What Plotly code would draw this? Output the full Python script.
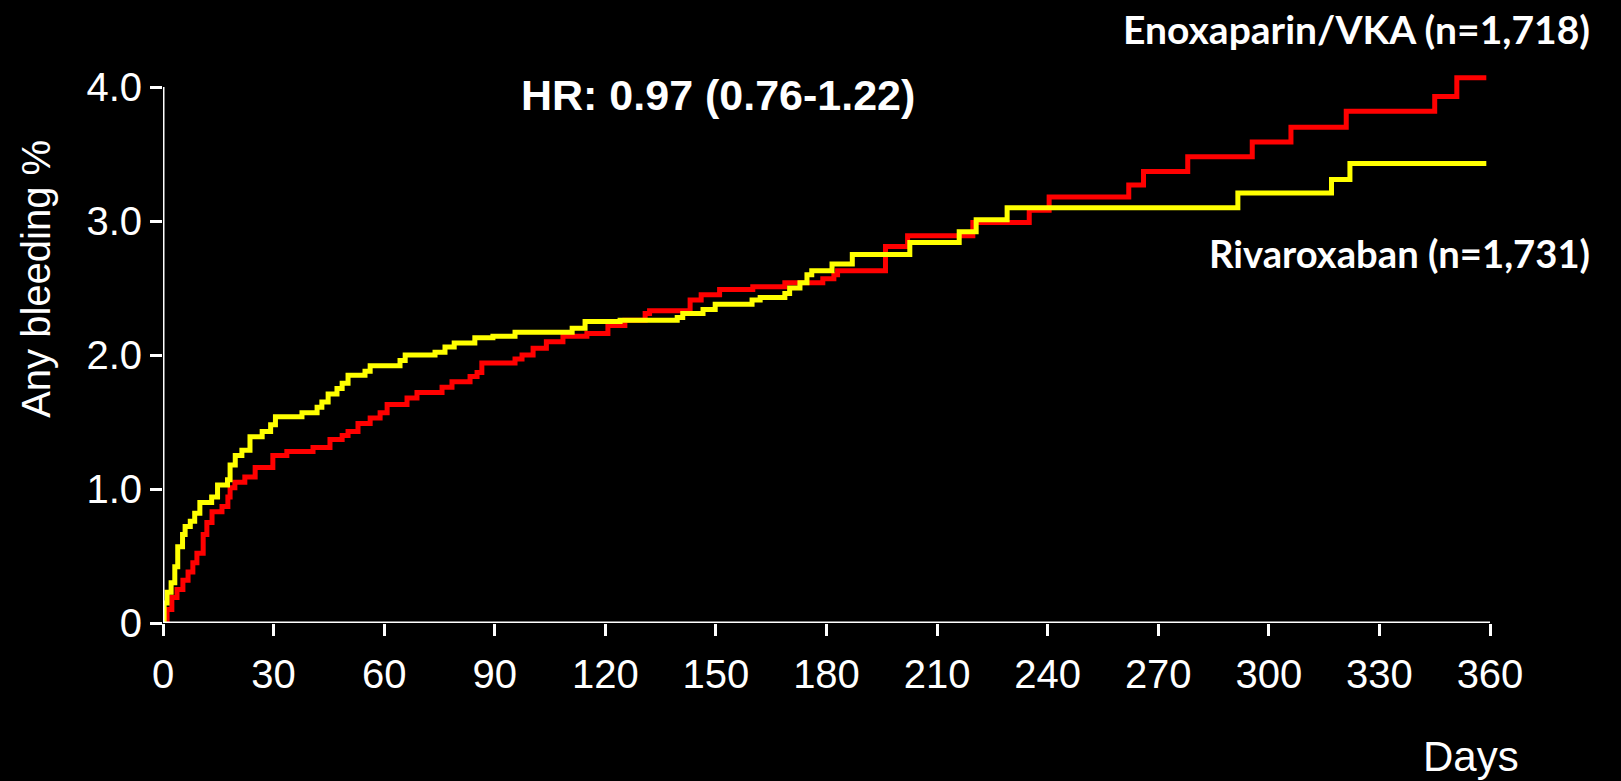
import plotly.graph_objects as go

# Kaplan-Meier style cumulative incidence (% any bleeding)
days_riv = [0, 0.3, 1.1, 2.2, 3.2, 4.0, 5.3, 6.0, 7.4, 8.6,
            10.0, 13.2, 14.8, 17.5, 18.2, 19.6, 21.4, 23.6, 26.9, 29.2,
            30.5, 37.7, 41.8, 43.1, 44.8, 47.2, 48.6, 50.2, 54.8, 56.2,
            64.3, 65.7, 73.8, 76.5, 79, 84.6, 89.5, 95.5, 111, 114.5,
            124, 139.5, 141, 146.5, 149.8, 159.8, 162, 168.7, 170, 172.8,
            174.7, 176, 181.5, 187, 202.6, 216, 220.6, 229, 291.6, 317,
            322, 359]
vals_riv = [0, 0.15, 0.23, 0.30, 0.42, 0.57, 0.66, 0.72, 0.76, 0.82,
            0.90, 0.94, 1.03, 1.07, 1.18, 1.25, 1.29, 1.39, 1.43, 1.48,
            1.54, 1.57, 1.61, 1.65, 1.71, 1.75, 1.79, 1.85, 1.88, 1.92,
            1.96, 2.00, 2.02, 2.06, 2.09, 2.13, 2.14, 2.17, 2.20, 2.25,
            2.26, 2.28, 2.31, 2.34, 2.38, 2.41, 2.43, 2.46, 2.50, 2.54,
            2.60, 2.63, 2.68, 2.75, 2.84, 2.92, 3.01, 3.10, 3.21, 3.31,
            3.43, 3.43]

days_enox = [0, 1.1, 2.4, 3.8, 5.4, 6.8, 8.1, 9.2, 10.9, 11.9,
             13.3, 16, 17.6, 18.2, 19.5, 22.2, 25, 29.8, 33.6, 40.7,
             45.3, 48.6, 50.2, 52.9, 56.2, 58.9, 60.8, 66.2, 68.9, 75.7,
             78.4, 83.3, 85.2, 86.5, 95.5, 97.4, 100.4, 104, 108.5, 115,
             120.7, 125.3, 130.8, 132, 143, 146, 151, 160, 168.7, 179,
             182, 183, 196, 202, 219.7, 235, 240.4, 262, 266, 278,
             295.5, 306, 321, 345, 351, 359]
vals_enox = [0, 0.10, 0.19, 0.25, 0.32, 0.38, 0.45, 0.52, 0.66, 0.75,
             0.83, 0.87, 0.94, 1.01, 1.05, 1.09, 1.16, 1.25, 1.28, 1.31,
             1.37, 1.40, 1.43, 1.49, 1.53, 1.57, 1.63, 1.68, 1.72, 1.76,
             1.80, 1.84, 1.87, 1.94, 1.97, 2.00, 2.05, 2.10, 2.14, 2.16,
             2.22, 2.26, 2.31, 2.33, 2.41, 2.45, 2.49, 2.51, 2.54, 2.57,
             2.60, 2.63, 2.81, 2.89, 2.99, 3.08, 3.18, 3.27, 3.37, 3.48,
             3.59, 3.70, 3.82, 3.93, 4.07, 4.07]

x_ticks = [0, 30, 60, 90, 120, 150, 180, 210, 240, 270, 300, 330, 360]
y_ticks = [0, 1, 2, 3, 4]
y_tick_labels = ["0", "1.0", "2.0", "3.0", "4.0"]

label_enox = "Enoxaparin/VKA (n=1,718)"
label_riv = "Rivaroxaban (n=1,731)"
hr_text = "HR: 0.97 (0.76-1.22)"
y_title = "Any bleeding %"
x_title = "Days"

fig = go.Figure()
fig.add_trace(go.Scatter(x=days_enox, y=vals_enox, mode="lines", line_shape="hv",
                         line=dict(color="#FF0000", width=5), name=label_enox))
fig.add_trace(go.Scatter(x=days_riv, y=vals_riv, mode="lines", line_shape="hv",
                         line=dict(color="#FFFF00", width=5), name=label_riv))

# axis lines
fig.add_shape(type="line", xref="x", yref="y", x0=0, x1=0, y0=0, y1=4,
              line=dict(color="white", width=3), layer="above")
fig.add_shape(type="line", xref="x", yref="y", x0=0, x1=360, y0=0, y1=0,
              line=dict(color="white", width=3), layer="above")

tickfont = dict(family="Liberation Sans, Arial, sans-serif", size=40, color="white")

fig.update_layout(
    width=1621, height=781,
    paper_bgcolor="black", plot_bgcolor="black",
    margin=dict(l=163, r=131, t=67, b=158),
    showlegend=False,
    xaxis=dict(range=[0, 360], tickvals=x_ticks, ticks="outside", ticklen=12,
               tickwidth=3, tickcolor="white", showgrid=False, zeroline=False,
               showline=False, tickfont=tickfont, ticklabelstandoff=4),
    yaxis=dict(range=[0, 4.15], tickvals=y_ticks, ticktext=y_tick_labels,
               ticks="outside", ticklen=12, tickwidth=3, tickcolor="white",
               showgrid=False, zeroline=False, showline=False, tickfont=tickfont),
    annotations=[
        dict(text=y_title, xref="paper", yref="paper", x=-0.0957, y=0.619,
             textangle=-90, showarrow=False, xanchor="center", yanchor="middle",
             font=dict(family="Liberation Sans, Arial, sans-serif", size=40, color="white")),
        dict(text=x_title, xref="paper", yref="paper", x=0.986, y=-0.241,
             showarrow=False, xanchor="center", yanchor="middle",
             font=dict(family="Liberation Sans, Arial, sans-serif", size=42, color="white")),
        dict(text="<b>" + hr_text + "</b>", xref="paper", yref="paper", x=0.418, y=0.950,
             showarrow=False, xanchor="center", yanchor="middle",
             font=dict(family="Liberation Sans, Arial, sans-serif", size=43, color="white")),
        dict(text="<b>" + label_enox + "</b>", xref="paper", yref="paper", x=1.0769, y=1.068,
             showarrow=False, xanchor="right", yanchor="middle",
             font=dict(family="Lato, sans-serif", size=39, color="white")),
        dict(text="<b>" + label_riv + "</b>", xref="paper", yref="paper", x=1.0769, y=0.665,
             showarrow=False, xanchor="right", yanchor="middle",
             font=dict(family="Lato, sans-serif", size=38.2, color="white")),
    ],
)

fig.write_html("out.html", config={"displayModeBar": False},
               post_script="document.body.style.margin='0';document.body.style.background='black';")
